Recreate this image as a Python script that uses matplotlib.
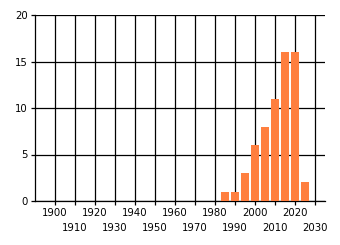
import numpy as np
import matplotlib as mpl
import matplotlib.pyplot as plt

mpl.rcParams['font.family'] = 'DejaVu Sans'
mpl.rcParams['font.size'] = 7.3

# data
years = [1985, 1990, 1995, 2000, 2005, 2010, 2015, 2020, 2025]
counts = [1, 1, 3, 6, 8, 11, 16, 16, 2]
major_years = list(range(1900, 2030, 20))
minor_years = list(range(1910, 2040, 20))
yticks = [0, 5, 10, 15, 20]

fig = plt.figure(figsize=(3.4, 2.45), dpi=100)
ax = fig.add_axes([35/340., 1-201/245., 290/340., 186/245.])

ax.bar(years, counts, width=4, color='#ff7f3f', zorder=3)

ax.set_xlim(1890, 2035)
ax.set_ylim(0, 20)
ax.set_xticks(major_years)
ax.set_xticks(minor_years, minor=True)
ax.set_xticklabels([str(y) for y in major_years])
ax.set_xticklabels([str(y) for y in minor_years], minor=True)
ax.set_yticks(yticks)

ax.grid(True, which='both', color='black', linewidth=0.9, zorder=0)
ax.set_axisbelow(True)
ax.tick_params(axis='x', which='major', length=3, width=0.9, pad=2)
ax.tick_params(axis='x', which='minor', length=3, width=0.9, pad=12.5)
ax.tick_params(axis='y', length=3, width=0.9, pad=2)

for s in ['top', 'right']:
    ax.spines[s].set_visible(False)
for s in ['left', 'bottom']:
    ax.spines[s].set_linewidth(0.9)

plt.savefig('out.png', dpi=100)
